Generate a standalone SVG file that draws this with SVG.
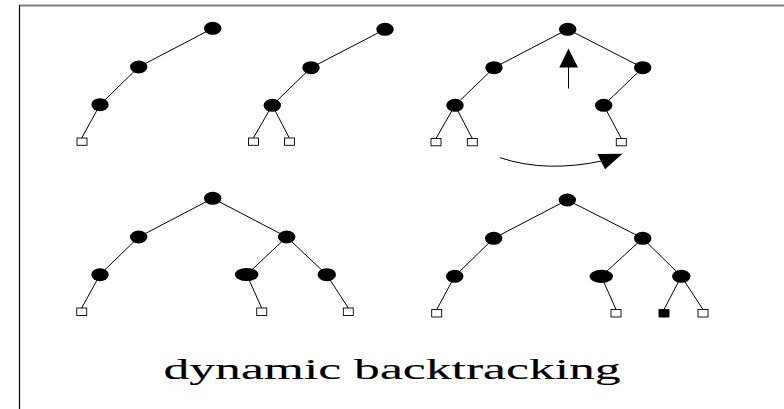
<svg xmlns="http://www.w3.org/2000/svg" width="784" height="409" viewBox="0 0 784 409">
<style>
.n{fill:#000}
.l{fill:#fff;stroke:#000;stroke-width:0.9}
.lf{fill:#000;stroke:#000;stroke-width:0.9}
.e{stroke:#000;stroke-width:1;fill:none}
</style>
<rect width="784" height="409" fill="#fff"/>
<line x1="19" y1="5.5" x2="784" y2="5.5" stroke="#808080" stroke-width="2"/>
<line x1="19.5" y1="5" x2="19.5" y2="409" stroke="#000" stroke-width="1.2"/>
<g id="connectors">
<path class="e" d="M212.7,28.3L138.7,67L100,104.7L81.7,138"/>
<path class="e" d="M385,29.3L311,67.7L272.3,105.3L253.3,138M272.3,105.3L289.3,138"/>
<path class="e" d="M567.7,29.3L494,67.7L455,105.3L436,138.5M455,105.3L472.3,138.5M567.7,29.3L642.7,67.7L603.7,105.3L621.3,138.5"/>
<path class="e" d="M212.7,198.3L138.7,237L100,274.7L81.7,308M212.7,198.3L286.7,237L246.7,274.7L261.7,308M286.7,237L326.7,274.7L348.3,308"/>
<path class="e" d="M567.3,200L493.7,238.3L454.7,276.3L436.7,309.5M567.3,200L642.7,238.3L601.3,276.3L616,309.5M642.7,238.3L681.3,276.3L664,309.5M681.3,276.3L703,309.5"/>
<line x1="568.5" y1="88.5" x2="568.5" y2="62" stroke="#000" stroke-width="1"/>
<polygon points="568.5,48.5 559.3,67.5 578,67.5" fill="#000"/>
<path class="e" d="M500,157.7Q546.5,173.2 604,160.5"/>
<polygon points="597.3,154 622.5,153.8 605,169.3" fill="#000"/>
</g>
<g id="tree1">
<ellipse class="n" cx="212.7" cy="28.3" rx="8.7" ry="6.5"/>
<ellipse class="n" cx="138.7" cy="67" rx="8.7" ry="6.5"/>
<ellipse class="n" cx="100" cy="104.7" rx="8.7" ry="6.5"/>
<rect class="l" x="77" y="138" width="10" height="7.3"/>
</g>
<g id="tree2">
<ellipse class="n" cx="385" cy="29.3" rx="8.7" ry="6.5"/>
<ellipse class="n" cx="311" cy="67.7" rx="8.7" ry="6.5"/>
<ellipse class="n" cx="272.3" cy="105.3" rx="8.7" ry="6.5"/>
<rect class="l" x="248.5" y="138" width="10" height="7.3"/>
<rect class="l" x="284.5" y="138" width="10" height="7.3"/>
</g>
<g id="tree3">
<ellipse class="n" cx="567.7" cy="29.3" rx="8.7" ry="6.5"/>
<ellipse class="n" cx="494" cy="67.7" rx="8.7" ry="6.5"/>
<ellipse class="n" cx="455" cy="105.3" rx="8.7" ry="6.5"/>
<ellipse class="n" cx="642.7" cy="67.7" rx="8.7" ry="6.5"/>
<ellipse class="n" cx="603.7" cy="105.3" rx="8.7" ry="6.5"/>
<rect class="l" x="431" y="138.5" width="10" height="7.3"/>
<rect class="l" x="467.3" y="138.5" width="10" height="7.3"/>
<rect class="l" x="616.3" y="138.5" width="10" height="7.3"/>
</g>
<g id="tree4">
<ellipse class="n" cx="212.7" cy="198.3" rx="8.7" ry="6.5"/>
<ellipse class="n" cx="138.7" cy="237" rx="8.7" ry="6.5"/>
<ellipse class="n" cx="100" cy="274.7" rx="8.7" ry="6.5"/>
<ellipse class="n" cx="286.7" cy="237" rx="8.7" ry="6.5"/>
<ellipse class="n" cx="246.7" cy="274.5" rx="11.7" ry="6.6"/>
<ellipse class="n" cx="326.8" cy="274.7" rx="9.2" ry="6.5"/>
<rect class="l" x="76.7" y="308" width="10" height="7.5"/>
<rect class="l" x="256.7" y="308" width="10" height="7.5"/>
<rect class="l" x="343.3" y="308" width="10" height="7.5"/>
</g>
<g id="tree5">
<ellipse class="n" cx="567.3" cy="200" rx="8.7" ry="6.5"/>
<ellipse class="n" cx="493.7" cy="238.3" rx="8.7" ry="6.5"/>
<ellipse class="n" cx="454.7" cy="276.3" rx="8.7" ry="6.5"/>
<ellipse class="n" cx="642.7" cy="238.3" rx="8.7" ry="6.5"/>
<ellipse class="n" cx="601.3" cy="276.3" rx="11.7" ry="6.6"/>
<ellipse class="n" cx="681.3" cy="276.3" rx="9.2" ry="6.5"/>
<rect class="l" x="431.7" y="309.5" width="10" height="7.5"/>
<rect class="l" x="611" y="309.5" width="10" height="7.5"/>
<rect class="lf" x="659" y="309.5" width="10" height="7.5"/>
<rect class="l" x="698" y="309.5" width="10" height="7.5"/>
</g>
<text transform="translate(163.5,379.3) scale(1.78,1)" font-family="'Liberation Serif', 'Times New Roman', serif" font-size="29" fill="#000" stroke="#000" stroke-width="0.12">dynamic backtracking</text>
</svg>
